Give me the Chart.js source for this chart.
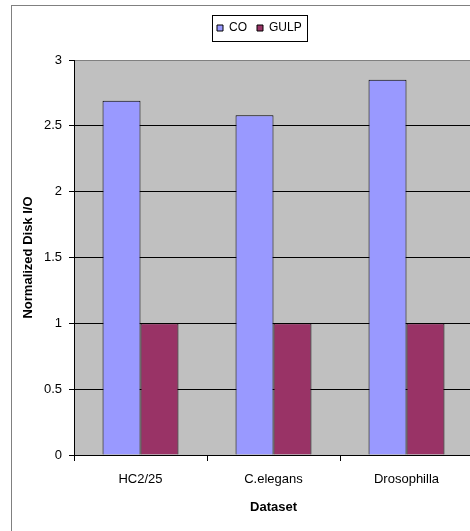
<!DOCTYPE html>
<html>
<head>
<meta charset="utf-8" />
<title>Normalized Disk I/O</title>
<script src="https://cdn.jsdelivr.net/npm/chart.js@4/dist/chart.umd.min.js"></script>
<style>
  html,
  body {
    margin: 0;
    padding: 0;
    background: #fff;
    overflow: hidden;
  }
  .c-frame {
    position: absolute;
    left: 11px;
    top: 5px;
    width: 600px;
    height: 700px;
    border-left: 1px solid #808080;
    border-top: 1px solid #808080;
  }
  .c-chart {
    position: absolute;
    left: 0;
    top: 0;
  }
</style>
</head>
<body>
<div class="c-frame"></div>
<canvas class="c-chart js-chart" width="474" height="531"></canvas>
<script>
//#region ***  Data                                     ***********
const categories = ["HC2/25", "C.elegans", "Drosophilla"];
const seriesNames = ["CO", "GULP"];
const coValues = [2.69, 2.58, 2.85];
const gulpValues = [1, 1, 1];
const yTicks = [0, 0.5, 1, 1.5, 2, 2.5, 3];
//#endregion

//#region ***  Plugins                                  ***********
// grey plot background
const plotBackground = {
  id: "plotBackground",
  beforeDraw: function (chart) {
    const { ctx, chartArea } = chart;
    ctx.save();
    ctx.fillStyle = "#c0c0c0";
    ctx.fillRect(chartArea.left, chartArea.top, chartArea.width, chartArea.height);
    ctx.restore();
  },
};

// move the legend up/right like the excel one and put a box round it
const legendFrame = {
  id: "legendFrame",
  afterLayout: function (chart) {
    const lg = chart.legend;
    const pad = lg.options.labels.padding;
    const x0 = (lg.left + pad + lg.right - lg.lineWidths[0]) / 2;
    const dx = 217 - x0;
    const dy = -16;
    lg.left += dx;
    lg.right += dx;
    lg.top += dy;
    lg.bottom += dy;
  },
  afterDraw: function (chart) {
    const lg = chart.legend;
    const pad = lg.options.labels.padding;
    const x0 = (lg.left + pad + lg.right - lg.lineWidths[0]) / 2;
    const span = lg.lineWidths[0] - pad;
    const cy = lg.top + pad + 6;
    const ctx = chart.ctx;
    ctx.save();
    ctx.strokeStyle = "#000";
    ctx.lineWidth = 1;
    ctx.strokeRect(Math.round(x0 - 5) + 0.5, Math.round(cy - 13) + 0.5, Math.round(span + 10), 26);
    ctx.restore();
  },
};
//#endregion

//#region ***  Chart                                    ***********
const showChart = function (htmlCanvas) {
  Chart.defaults.font.family = '"Liberation Sans", Arial, sans-serif';
  Chart.defaults.font.size = 13;
  Chart.defaults.color = "#000";

  const data = {
    labels: categories,
    datasets: [
      {
        label: seriesNames[0],
        data: coValues,
        backgroundColor: "#9999ff",
        borderColor: "#000",
        borderWidth: 1,
      },
      {
        label: seriesNames[1],
        data: gulpValues,
        backgroundColor: "#993366",
        borderColor: "#000",
        borderWidth: 1,
      },
    ],
  };

  const config = {
    type: "bar",
    data: data,
    plugins: [plotBackground, legendFrame],
    options: {
      responsive: false,
      animation: false,
      categoryPercentage: 0.571,
      barPercentage: 1,
      layout: {
        padding: { top: 28, left: 0, right: 1, bottom: 0 },
      },
      plugins: {
        legend: {
          position: "top",
          labels: {
            boxWidth: 6,
            boxHeight: 6,
            padding: 10,
            font: { size: 12 },
          },
        },
        tooltip: { enabled: false },
      },
      scales: {
        x: {
          grid: {
            drawOnChartArea: false,
            tickLength: 6,
            color: "#000",
          },
          border: { color: "#000", width: 1 },
          ticks: { padding: 11 },
          title: {
            display: true,
            text: "Dataset",
            font: { size: 13, weight: "bold" },
            padding: { top: 0, bottom: 16 },
          },
          afterFit: function (scale) {
            scale.height = 76;
          },
        },
        y: {
          min: yTicks[0],
          max: yTicks[yTicks.length - 1],
          afterBuildTicks: function (scale) {
            scale.ticks = yTicks.map((v) => ({ value: v }));
          },
          grid: {
            tickLength: 5,
            color: (ctx) => (ctx.tick && ctx.tick.value === 3 ? "#808080" : "#000"),
            tickColor: "#000",
          },
          border: { color: "#000", width: 1 },
          ticks: {
            padding: 7,
            callback: (value) => String(value),
          },
          title: {
            display: true,
            text: "Normalized Disk I/O",
            font: { size: 13, weight: "bold" },
            padding: { top: 21, bottom: 0 },
          },
          afterFit: function (scale) {
            scale.width = 74;
          },
        },
      },
    },
  };
  new Chart(htmlCanvas, config);
};
//#endregion

//#region ***  Init / DOMContentLoaded                  ***********
const init = function () {
  const htmlChart = document.querySelector(".js-chart");
  showChart(htmlChart);
};

document.addEventListener("DOMContentLoaded", init);
//#endregion
</script>
</body>
</html>
